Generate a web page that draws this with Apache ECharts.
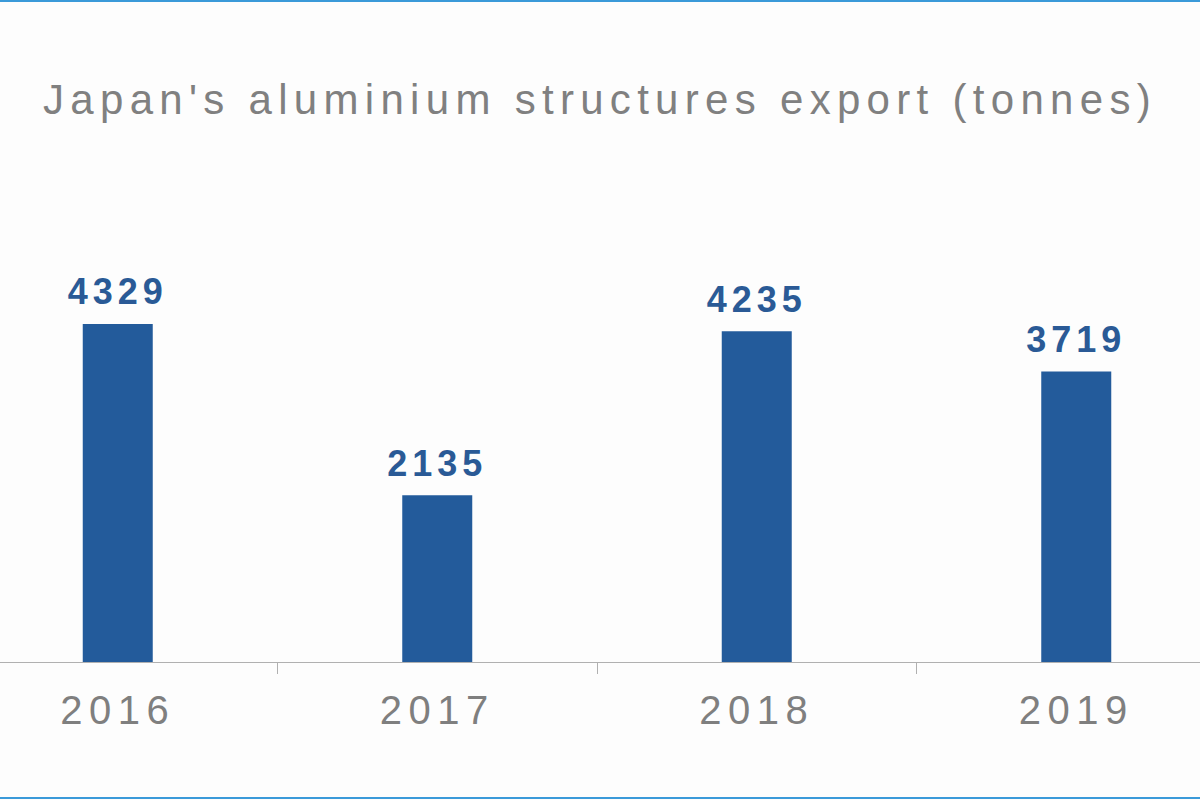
<!DOCTYPE html>
<html><head><meta charset="utf-8">
<script src="https://cdn.jsdelivr.net/npm/echarts@6/dist/echarts.min.js"></script>
<style>
html,body{margin:0;padding:0;background:#fdfdfd;}
#c{width:1200px;height:800px;position:relative;}
#c text[style*="42px"]{letter-spacing:6.3px;}
#c text[style*="40px"]{letter-spacing:6.5px;}
#c text[style*="36px"]{letter-spacing:5px;}
.bt{position:absolute;left:0;width:1200px;height:2px;background:#3a9ad9;}
</style></head>
<body><div id="c"></div>
<div class="bt" style="top:0"></div><div class="bt" style="top:797px"></div>
<script>
const categories = ['2016','2017','2018','2019'];
const values = [4329, 2135, 4235, 3719];
const chart = echarts.init(document.getElementById('c'), null, {renderer:'svg'});
chart.setOption({
  backgroundColor:'#fdfdfd',
  title:{text:"Japan's aluminium structures export (tonnes)", left:'center', top:73,
    textStyle:{fontFamily:'Liberation Sans, Arial', fontSize:42, fontWeight:'normal', color:'#808080'}},
  grid:{left:-42, width:1278, top:193.5, height:468.5, outerBoundsMode:'none', containLabel:false},
  xAxis:{type:'category', data:categories,
    axisLine:{lineStyle:{color:'#b0b0b0'}},
    axisTick:{show:true, length:12, lineStyle:{color:'#b0b0b0'}},
    axisLabel:{fontFamily:'Liberation Sans, Arial', fontSize:40, color:'#7f7f7f', margin:28}},
  yAxis:{type:'value', min:0, max:6000, show:false, splitLine:{show:false}},
  series:[{type:'bar', data:values, barWidth:70, itemStyle:{color:'#235b9b'},
    label:{show:true, position:'top', distance:14, fontFamily:'Liberation Sans, Arial',
      fontSize:36, fontWeight:'bold', color:'#2a5a96'}}]
});
</script></body></html>
